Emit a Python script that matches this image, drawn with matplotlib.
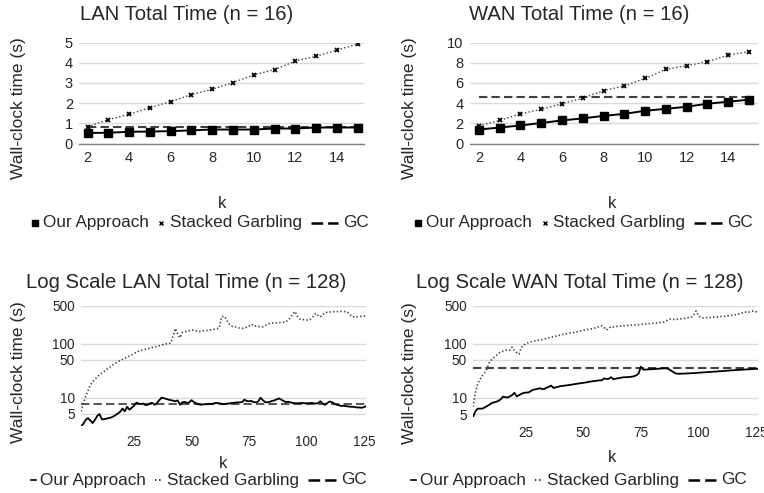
import matplotlib
matplotlib.use('Agg')
import matplotlib.pyplot as plt
from matplotlib.lines import Line2D
from matplotlib.offsetbox import DrawingArea, TextArea, HPacker, AnchoredOffsetbox

plt.rcParams['font.family'] = ['Liberation Sans', 'DejaVu Sans']
plt.rcParams['lines.scale_dashes'] = False

# ---- data: n = 16 (top row) ----
k_small = list(range(2, 16))
lan_our_16 = [0.53, 0.54, 0.59, 0.60, 0.62, 0.66, 0.70, 0.70, 0.70, 0.75, 0.75, 0.80, 0.80, 0.80]
lan_sg_16 = [0.83, 1.19, 1.45, 1.78, 2.08, 2.43, 2.69, 3.02, 3.40, 3.66, 4.08, 4.32, 4.62, 4.93]
lan_gc_16 = 0.83
wan_our_16 = [1.40, 1.60, 1.80, 2.05, 2.30, 2.50, 2.75, 2.95, 3.25, 3.45, 3.65, 3.95, 4.15, 4.35]
wan_sg_16 = [1.75, 2.30, 2.95, 3.40, 3.95, 4.50, 5.25, 5.70, 6.45, 7.35, 7.70, 8.10, 8.75, 9.10]
wan_gc_16 = 4.6

# ---- data: n = 128 (bottom row), k = 2..126 ----
k_large = list(range(2, 127))
lan_sg_128 = [
    5.6, 8.0, 10.5, 13.5, 17, 19.5, 22, 24, 26.5, 28.5,
    30.5, 33, 35.5, 38, 41, 43.5, 46.5, 48.5, 51, 53.5,
    56, 59, 62, 65, 70, 72, 74, 76, 78.5, 80,
    83, 85, 87, 88, 91, 94, 96, 99, 100, 102,
    140, 190, 150, 128, 160, 166, 168, 172, 176, 178,
    172, 168, 166, 170, 172, 175, 178, 180, 184, 188,
    192, 310, 320, 290, 240, 215, 205, 204, 198, 192,
    190, 196, 200, 210, 228, 215, 210, 208, 205, 204,
    215, 225, 235, 238, 240, 242, 244, 246, 248, 252,
    270, 300, 350, 390, 320, 285, 280, 275, 272, 272,
    285, 320, 360, 330, 310, 340, 370, 378, 382, 386,
    388, 388, 390, 392, 390, 388, 375, 340, 312, 310,
    312, 315, 318, 320, 322]
lan_our_128 = [
    3.0, 3.3, 3.9, 4.2, 3.8, 3.4, 3.9, 4.6, 5.0, 4.0,
    4.0, 4.1, 4.2, 4.3, 4.5, 4.8, 5.1, 5.5, 6.3, 5.6,
    6.8, 6.0, 6.5, 7.1, 8.1, 7.8, 7.6, 7.8, 7.3, 7.4,
    7.9, 8.0, 7.4, 8.0, 9.0, 10.0, 9.8, 9.5, 9.2, 9.0,
    8.8, 8.6, 8.9, 7.4, 8.2, 8.4, 8.0, 8.2, 9.0, 8.3,
    7.9, 7.6, 7.4, 7.5, 7.6, 7.6, 7.7, 7.7, 7.9, 8.0,
    7.9, 7.7, 7.6, 7.7, 7.8, 7.9, 8.0, 8.1, 8.2, 8.2,
    8.3, 9.2, 8.7, 8.6, 8.7, 8.3, 8.2, 8.5, 10.0, 9.0,
    8.3, 8.2, 8.4, 8.7, 8.9, 9.3, 9.7, 9.2, 8.7, 8.3,
    8.4, 8.2, 8.0, 7.9, 7.9, 7.9, 8.0, 7.9, 7.9, 7.9,
    8.0, 7.9, 7.8, 7.9, 8.6, 7.8, 7.4, 7.9, 8.5, 8.3,
    7.8, 7.4, 7.3, 7.0, 7.1, 7.0, 6.9, 6.8, 6.8, 6.7,
    6.6, 6.6, 6.5, 6.7, 7.0]
lan_gc_128 = 7.8
wan_sg_128 = [
    6.8, 12, 18, 21.5, 25.5, 28.5, 34, 44, 50, 55,
    60, 65, 70, 72, 75, 77, 76, 86, 75, 68,
    64, 85, 92, 100, 104, 107, 110, 112, 115, 117,
    119, 122, 125, 128, 131, 134, 137, 140, 144, 147,
    150, 153, 156, 158, 161, 165, 168, 172, 176, 179,
    182, 185, 189, 194, 200, 206, 212, 200, 178, 192,
    205, 203, 206, 208, 210, 212, 214, 216, 218, 219,
    220, 222, 224, 226, 228, 230, 232, 234, 236, 238,
    240, 243, 246, 250, 262, 278, 284, 280, 278, 282,
    285, 288, 292, 298, 302, 310, 340, 400, 330, 300,
    298, 300, 302, 304, 306, 308, 310, 313, 316, 318,
    322, 326, 330, 334, 340, 348, 356, 368, 385, 378,
    382, 392, 400, 388, 372]
wan_our_128 = [
    4.4, 5.6, 6.3, 6.3, 6.3, 6.6, 7.0, 7.4, 7.9, 8.2,
    8.4, 8.8, 9.3, 10.5, 10.3, 10.1, 10.6, 11.2, 12.4, 10.6,
    11.2, 11.8, 12.3, 12.5, 12.5, 13.2, 14.0, 14.3, 14.6, 15.0,
    14.5, 14.6, 15.4, 16.0, 16.8, 15.2, 15.6, 16.0, 16.4, 16.6,
    16.8, 17.0, 17.3, 17.5, 17.8, 18.1, 18.4, 18.6, 18.9, 19.2,
    19.5, 19.9, 20.2, 20.4, 20.7, 21.0, 21.0, 22.8, 22.2, 22.4,
    24.0, 22.0, 22.5, 23.0, 23.3, 23.8, 24.0, 24.0, 24.2, 24.5,
    25.0, 26.0, 28.0, 37.5, 33.0, 33.2, 33.4, 33.6, 33.8, 34.0,
    34.2, 34.5, 34.7, 34.9, 35.0, 34.0, 32.0, 30.0, 28.2, 27.8,
    27.8, 27.9, 28.0, 28.1, 28.3, 28.4, 28.6, 28.8, 29.0, 29.2,
    29.4, 29.6, 29.8, 30.0, 30.2, 30.4, 30.6, 30.8, 31.0, 31.2,
    31.5, 31.7, 32.0, 32.2, 32.4, 32.6, 32.8, 33.0, 33.2, 33.4,
    33.6, 33.8, 34.0, 34.2, 34.4]
wan_gc_128 = 36

W, H = 764, 493
fig = plt.figure(figsize=(W / 100, H / 100), dpi=100)
GRID = '#d9d9d9'
TXT = '#262626'


def axes_px(l, t, r, b):
    return fig.add_axes([l / W, 1 - b / H, (r - l) / W, (b - t) / H])


def fig_text(x, y, s, **kw):
    fig.text(x / W, 1 - y / H, s, ha='center', va='center', color=TXT, **kw)


def style(ax, show_axis_line):
    for side in ['top', 'right', 'left', 'bottom']:
        ax.spines[side].set_visible(False)
    if show_axis_line:
        ax.spines['bottom'].set_visible(True)
        ax.spines['bottom'].set_color('#7f7f7f')
        ax.spines['bottom'].set_linewidth(1.0)
    ax.grid(axis='y', color=GRID, linewidth=1.0)
    ax.set_axisbelow(True)
    ax.tick_params(length=0, colors=TXT)
    ax.tick_params(axis='y', pad=4.5)


def legend_row(x, y, entries):
    boxes = []
    for width, kw, label in entries:
        da = DrawingArea(width, 8, 0, 0)
        if kw.get('ls') == 'none':
            da.add_artist(Line2D([width / 2], [4], **kw))
        else:
            da.add_artist(Line2D([0, width], [4, 4], **kw))
        ta = TextArea(label, textprops=dict(fontsize=12.3, color=TXT))
        boxes.append(HPacker(children=[da, ta], align='center', pad=0, sep=3.5))
    row = HPacker(children=boxes, align='center', pad=0, sep=6.5)
    anc = AnchoredOffsetbox(loc='center', child=row, pad=0, borderpad=0, frameon=False,
                            bbox_to_anchor=(x / W, 1 - y / H), bbox_transform=fig.transFigure)
    fig.add_artist(anc)


# ---- top row ----
top = [
    (79.3, 364.3, (1.6, 15.32), lan_our_16, lan_sg_16, lan_gc_16, (0, 5), [0, 1, 2, 3, 4, 5],
     'LAN Total Time (n = 16)', 187, 19, 222, 200),
    (470, 758.3, (1.57, 15.45), wan_our_16, wan_sg_16, wan_gc_16, (0, 10), [0, 2, 4, 6, 8, 10],
     'WAN Total Time (n = 16)', 579, 409.5, 612, 583.5),
]
for l, r, xl, our, sg, gc, yl, yt, title, tx, ylx, kx, lx in top:
    ax = axes_px(l, 42.5, r, 143.7)
    style(ax, True)
    ax.plot(k_small, [gc] * len(k_small), color='#404040', lw=1.5, dashes=(6, 3))
    ax.plot(k_small, sg, color='#404040', lw=1.0, ls=':', marker='x', markersize=3.5,
            mew=1.3, mec='black')
    ax.plot(k_small, our, color='black', lw=1.4, marker='s', markersize=5.5)
    ax.set_xlim(*xl)
    ax.set_ylim(*yl)
    ax.set_yticks(yt)
    ax.set_xticks([2, 4, 6, 8, 10, 12, 14])
    ax.tick_params(axis='both', labelsize=10.5)
    ax.tick_params(axis='x', pad=5)
    fig_text(tx, 15, title, fontsize=14.6)
    fig_text(ylx, 108, 'Wall-clock time (s)', fontsize=12.5, rotation=90)
    fig_text(kx, 204, 'k', fontsize=12)
    legend_row(lx, 223, [
        (5, dict(ls='none', marker='s', markersize=4, color='black'), 'Our Approach'),
        (5, dict(ls='none', marker='x', markersize=3, mew=1, color='black'), 'Stacked Garbling'),
        (20, dict(color='black', lw=1.8, dashes=(8.4, 3.6)), 'GC'),
    ])

# ---- bottom row (log scale) ----
bottom = [
    (81.1, 426.4, (2.95, 500), lan_our_128, lan_sg_128, lan_gc_128, '#595959',
     'Log Scale LAN Total Time (n = 128)', 186, 19, 372, 223, 463, 199),
    (473, 417.4, (4.35, 500), wan_our_128, wan_sg_128, wan_gc_128, '#404040',
     'Log Scale WAN Total Time (n = 128)', 580, 409.5, 373, 612, 458, 579),
]
for l, b, yl, our, sg, gc, gc_col, title, tx, ylx, yly, kx, ky, lx in bottom:
    ax = axes_px(l, 305.7, l + 285.2, b)
    style(ax, False)
    ax.set_yscale('log')
    ax.plot(k_large, [gc] * len(k_large), color=gc_col, lw=1.5, dashes=(6, 3))
    ax.plot(k_large, sg, color='#404040', lw=1.2, ls=(0, (1, 1.6)))
    ax.plot(k_large, our, color='black', lw=1.3)
    ax.set_xlim(2, 126)
    ax.set_ylim(*yl)
    ax.set_yticks([5, 10, 50, 100, 500])
    ax.set_yticklabels(['5', '10', '50', '100', '500'])
    ax.minorticks_off()
    ax.set_xticks([25, 50, 75, 100, 125])
    ax.tick_params(axis='both', labelsize=9.8)
    ax.tick_params(axis='x', pad=6)
    fig_text(tx, 282, title, fontsize=14.6)
    fig_text(ylx, yly, 'Wall-clock time (s)', fontsize=12.5, rotation=90)
    fig_text(kx, ky, 'k', fontsize=12)
    legend_row(lx, 480, [
        (3, dict(color='black', lw=1.2), 'Our Approach'),
        (5, dict(color='black', lw=1.2, dashes=(1, 2)), 'Stacked Garbling'),
        (20, dict(color='black', lw=1.8, dashes=(8.4, 3.6)), 'GC'),
    ])

fig.savefig('out.png', dpi=100)
